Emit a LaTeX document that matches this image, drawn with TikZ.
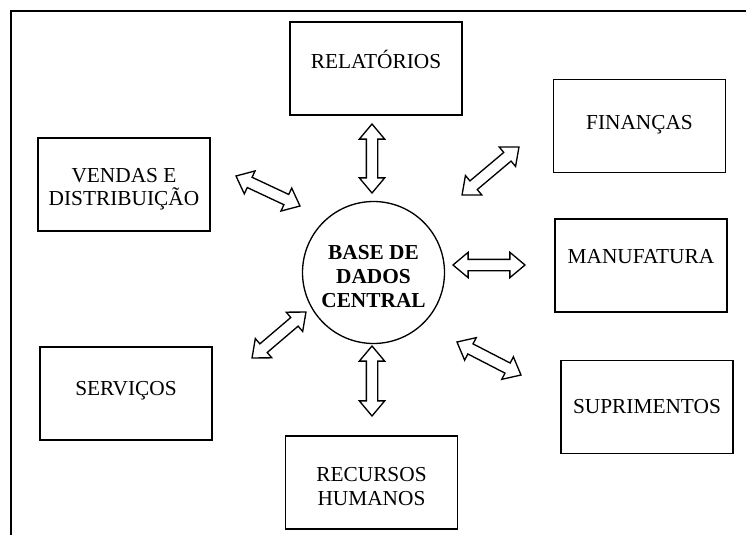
\documentclass[tikz,border=0pt]{standalone}
\usepackage{fontspec}
\setmainfont{Liberation Serif}
\usetikzlibrary{shapes.arrows}
\usetikzlibrary{calc}

\begin{document}
\begin{tikzpicture}[x=0.75pt, y=-0.75pt, font=\fontsize{16}{17.3}\selectfont,
  modulo/.style={rectangle, draw, line width=1.1pt, minimum width=129pt, minimum height=70pt, align=center, inner sep=0pt},
  seta/.style={double arrow, draw, line width=1pt, fill=white, inner xsep=0pt, inner ysep=3.75pt, minimum width=18pt, double arrow head extend=5.25pt, double arrow tip angle=80}]
\useasboundingbox (0,0) rectangle (746,535);
\draw[line width=1.4pt] (11,535) -- (11,11) -- (746,11);

\node [circle, draw, line width=1pt, minimum size=106.5pt, align=center, text height=53pt, text depth=1.2pt, font=\fontsize{16}{18}\selectfont\bfseries] (base) at (373.5,272.5) {BASE DE\\DADOS\\CENTRAL};

\node [modulo, text height=11pt, text depth=10.25pt] (rel) at (376,68.5) {RELATÓRIOS};
\node [modulo, text height=11pt, text depth=5.75pt] (fin) at (639.5,126) {FINANÇAS};
\node [modulo, text height=11pt, text depth=14.75pt] (man) at (641,265.5) {MANUFATURA};
\node [modulo, text height=11pt, text depth=2pt] (sup) at (647,407) {SUPRIMENTOS};
\node [modulo, text height=35pt, text depth=1.2pt] (rh) at (371.5,482.5) {RECURSOS\\HUMANOS};
\node [modulo, text height=11pt, text depth=8.75pt] (serv) at (126,393.5) {SERVIÇOS};
\node [modulo, text height=34pt, text depth=1.8pt] (vend) at (124,184.5) {VENDAS E\\DISTRIBUIÇÃO};

\coordinate (rel1) at (372,124);
\coordinate (rel2) at (372,193);
\coordinate (fin1) at (462,195);
\coordinate (fin2) at (519,147);
\coordinate (man1) at (453,265);
\coordinate (man2) at (525,265);
\coordinate (sup1) at (457,342);
\coordinate (sup2) at (521,375);
\coordinate (rh1) at (372,346);
\coordinate (rh2) at (372,416);
\coordinate (serv1) at (252,358);
\coordinate (serv2) at (306,312);
\coordinate (vend1) at (236,176);
\coordinate (vend2) at (300,206);

\path let \p1=($(rel2)-(rel1)$) in node [seta, rotate={atan2(\y1,\x1)}, minimum height={veclen(\x1,\y1)}] (s1) at ($(rel1)!.5!(rel2)$) {};
\path let \p1=($(fin2)-(fin1)$) in node [seta, rotate={atan2(\y1,\x1)}, minimum height={veclen(\x1,\y1)}] (s2) at ($(fin1)!.5!(fin2)$) {};
\path let \p1=($(man2)-(man1)$) in node [seta, rotate={atan2(\y1,\x1)}, minimum height={veclen(\x1,\y1)}] (s3) at ($(man1)!.5!(man2)$) {};
\path let \p1=($(sup2)-(sup1)$) in node [seta, rotate={atan2(\y1,\x1)}, minimum height={veclen(\x1,\y1)}] (s4) at ($(sup1)!.5!(sup2)$) {};
\path let \p1=($(rh2)-(rh1)$) in node [seta, rotate={atan2(\y1,\x1)}, minimum height={veclen(\x1,\y1)}] (s5) at ($(rh1)!.5!(rh2)$) {};
\path let \p1=($(serv2)-(serv1)$) in node [seta, rotate={atan2(\y1,\x1)}, minimum height={veclen(\x1,\y1)}] (s6) at ($(serv1)!.5!(serv2)$) {};
\path let \p1=($(vend2)-(vend1)$) in node [seta, rotate={atan2(\y1,\x1)}, minimum height={veclen(\x1,\y1)}] (s7) at ($(vend1)!.5!(vend2)$) {};
\end{tikzpicture}
\end{document}
